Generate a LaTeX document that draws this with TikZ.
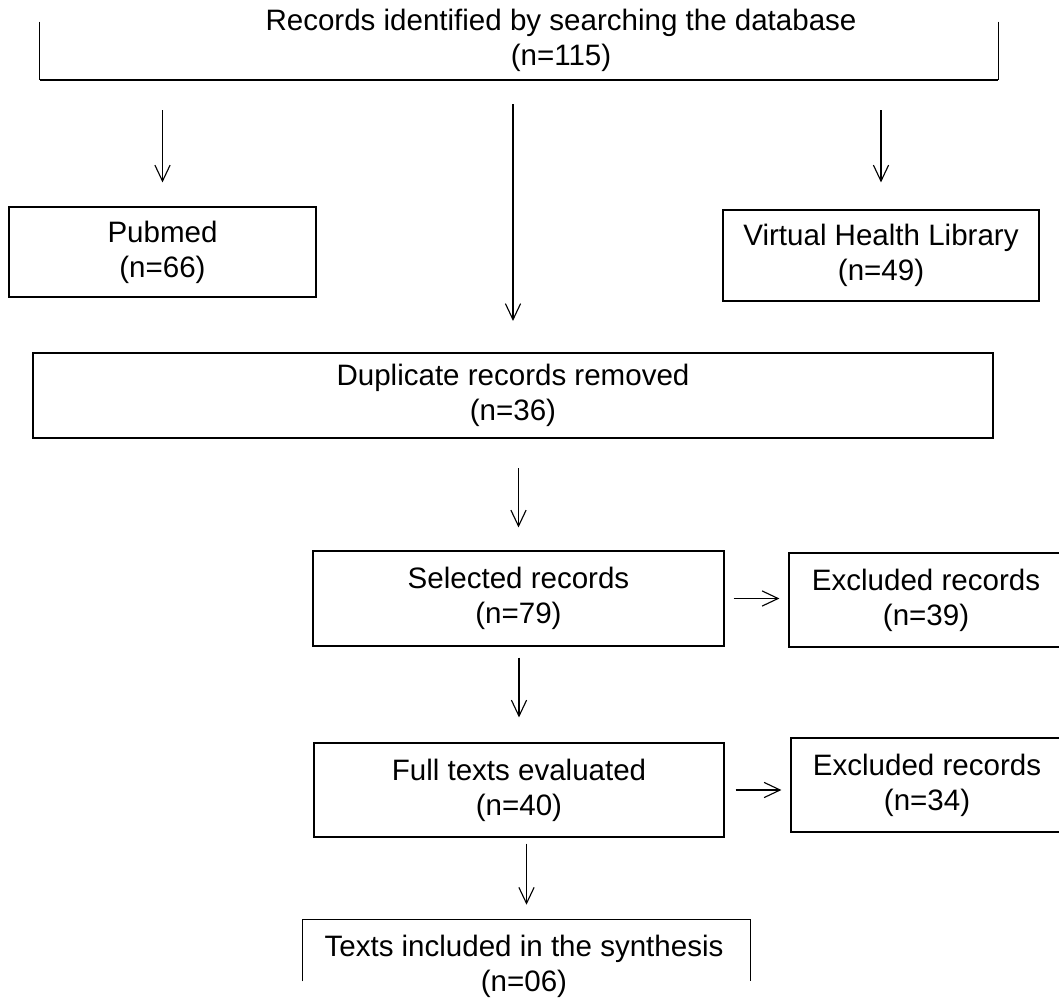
\documentclass[tikz,border=0pt]{standalone}
\usepackage{fontspec}
\setmainfont{Liberation Sans}
\usetikzlibrary{arrows.meta}
\tikzset{
  box/.style={draw,line width=.8pt,inner sep=0pt,align=center},
  arr/.style={line width=.8pt,-{Straight Barb[length=4mm,width=3.8mm]}},
}
\begin{document}
\begin{tikzpicture}[x=.025cm,y=-.025cm,font=\fontsize{21}{24.9}\selectfont]
\useasboundingbox (0,0) rectangle (1059,999);
\clip (0,0) rectangle (1059,999);
\node[inner sep=0pt,minimum width=239.5mm,minimum height=14.5mm] (db) at (519,51) {};
\node[align=center,inner sep=0pt] (dbtext) at (561,40.5) {Records identified by searching the database\\(n=115)};
\draw[line width=.8pt] (db.north west)--(db.south west);
\draw[line width=.8pt] (db.north east)--(db.south east);
\draw[line width=1.5pt] (db.south west)--(db.south east);
\node[box,minimum width=76.75mm,minimum height=22.5mm] (pub) at (162.5,252) {Pubmed\\(n=66)};
\node[box,minimum width=79mm,minimum height=22.75mm] (vhl) at (881,255.5) {Virtual Health Library\\(n=49)};
\node[box,line width=1.5pt,minimum width=240mm,minimum height=21.25mm] (dup) at (513,395.5) {Duplicate records removed\\(n=36)};
\node[box,minimum width=102.75mm,minimum height=23.75mm] (sel) at (518.5,598.5) {Selected records\\(n=79)};
\node[box,minimum width=68.5mm,minimum height=23.5mm] (exc1) at (926,600) {Excluded records\\(n=39)};
\node[box,minimum width=102.5mm,minimum height=23.5mm] (full) at (519,790) {Full texts evaluated\\(n=40)};
\node[box,minimum width=68mm,minimum height=23.5mm] (exc2) at (927,785) {Excluded records\\(n=34)};
\node[inner sep=0pt,minimum width=111.75mm,minimum height=15.25mm] (incl) at (526.5,950.5) {};
\node[align=center,inner sep=0pt] (incltext) at (524,966.5) {Texts included in the synthesis\\(n=06)};
\draw[line width=.8pt] (incl.south west)--(incl.north west)--(incl.north east)--(incl.south east);
\draw[arr,shorten <=7.5mm,shorten >=6mm] (pub.north |- db.south)--(pub.north);
\draw[arr,shorten <=7.5mm,shorten >=6.75mm] (vhl.north |- db.south)--(vhl.north);
\draw[arr,shorten <=6mm,shorten >=7.75mm] (dup.north |- db.south)--(dup.north);
\draw[arr,shorten <=7.25mm,shorten >=5.75mm] (sel.north |- dup.south)--(sel.north);
\draw[arr,shorten <=2.25mm,shorten >=2.25mm] (sel.east)--(sel.east -| exc1.west);
\draw[arr,shorten <=2.75mm,shorten >=6.25mm] (full.north |- sel.south)--(full.north);
\draw[arr,shorten <=2.75mm,shorten >=2.25mm] (full.east)--(full.east -| exc2.west);
\draw[arr,shorten <=1.5mm,shorten >=3.75mm] (incl.north |- full.south)--(incl.north);
\end{tikzpicture}
\end{document}
